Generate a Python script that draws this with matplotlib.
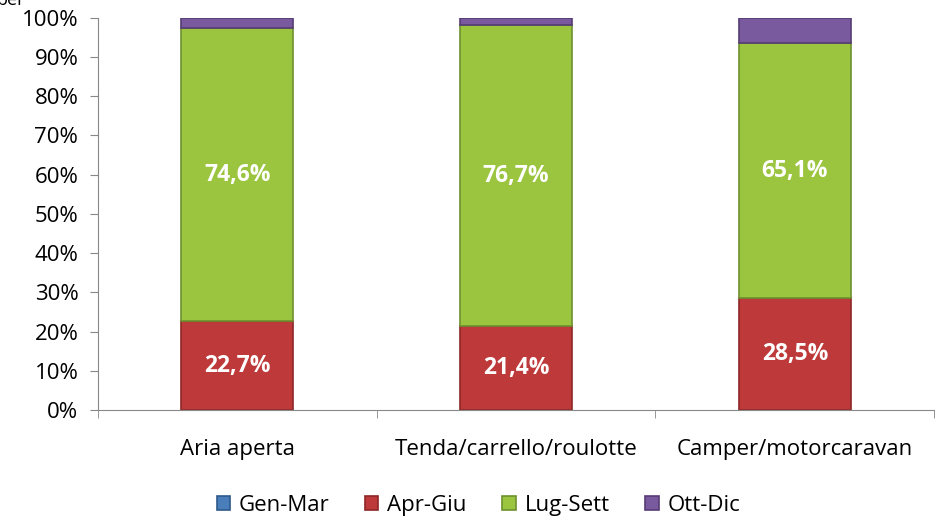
import matplotlib.pyplot as plt
import numpy as np

plt.rcParams['font.family'] = ['Open Sans', 'DejaVu Sans']

categories = ['Aria aperta', 'Tenda/carrello/roulotte', 'Camper/motorcaravan']
series = ['Gen-Mar', 'Apr-Giu', 'Lug-Sett', 'Ott-Dic']
gen_mar = [0.0, 0.0, 0.0]
apr_giu = [22.7, 21.4, 28.5]
lug_sett = [74.6, 76.7, 65.1]
ott_dic = [2.7, 1.9, 6.4]

colors = ['#4A7EBB', '#BE3A3A', '#9BC43F', '#7A5A9E']
edges = ['#2F5A8A', '#8E2626', '#6E9130', '#553C75']

fig = plt.figure(figsize=(9.4, 5.18), dpi=100)
ax = fig.add_axes([0.104, 0.208, 0.89, 0.758])

x = np.arange(len(categories))
bottom = np.zeros(len(categories))
for name, vals, c, ec in zip(series, [gen_mar, apr_giu, lug_sett, ott_dic], colors, edges):
    vals = np.array(vals)
    ax.bar(x, vals, 0.4, bottom=bottom, color=c, edgecolor=ec, linewidth=1.2, label=name)
    bottom += vals

# data labels for the two big series
for i in range(len(categories)):
    ax.text(x[i], apr_giu[i] / 2, f'{apr_giu[i]:.1f}%'.replace('.', ','),
            ha='center', va='center', color='white', fontsize=16.5, fontweight='bold')
    ax.text(x[i], apr_giu[i] + lug_sett[i] / 2, f'{lug_sett[i]:.1f}%'.replace('.', ','),
            ha='center', va='center', color='white', fontsize=16.5, fontweight='bold')

ax.set_xlim(-0.5, 2.5)
ax.set_ylim(0, 100)
ax.set_yticks(np.arange(0, 101, 10))
ax.set_yticklabels([f'{v}%' for v in range(0, 101, 10)], fontsize=16)
ax.set_xticks(x)
ax.set_xticklabels(categories, fontsize=16)
ax.tick_params(axis='x', length=0, pad=21)
ax.set_xticks([-0.5, 0.5, 1.5, 2.5], minor=True)
ax.tick_params(axis='x', which='minor', length=6, color='#888888')
ax.tick_params(axis='y', length=6, color='#888888', pad=8)

for s in ['top', 'right']:
    ax.spines[s].set_visible(False)
for s in ['left', 'bottom']:
    ax.spines[s].set_color('#888888')

fig.text(-0.004, 1.0, 'ber', fontsize=13, va='center', ha='left')

ax.legend(loc='upper center', bbox_to_anchor=(0.455, -0.165), ncol=4, frameon=False,
          fontsize=16, handlelength=0.6, handleheight=0.6, handletextpad=0.4, columnspacing=1.6)

fig.savefig('out.png', dpi=100)
